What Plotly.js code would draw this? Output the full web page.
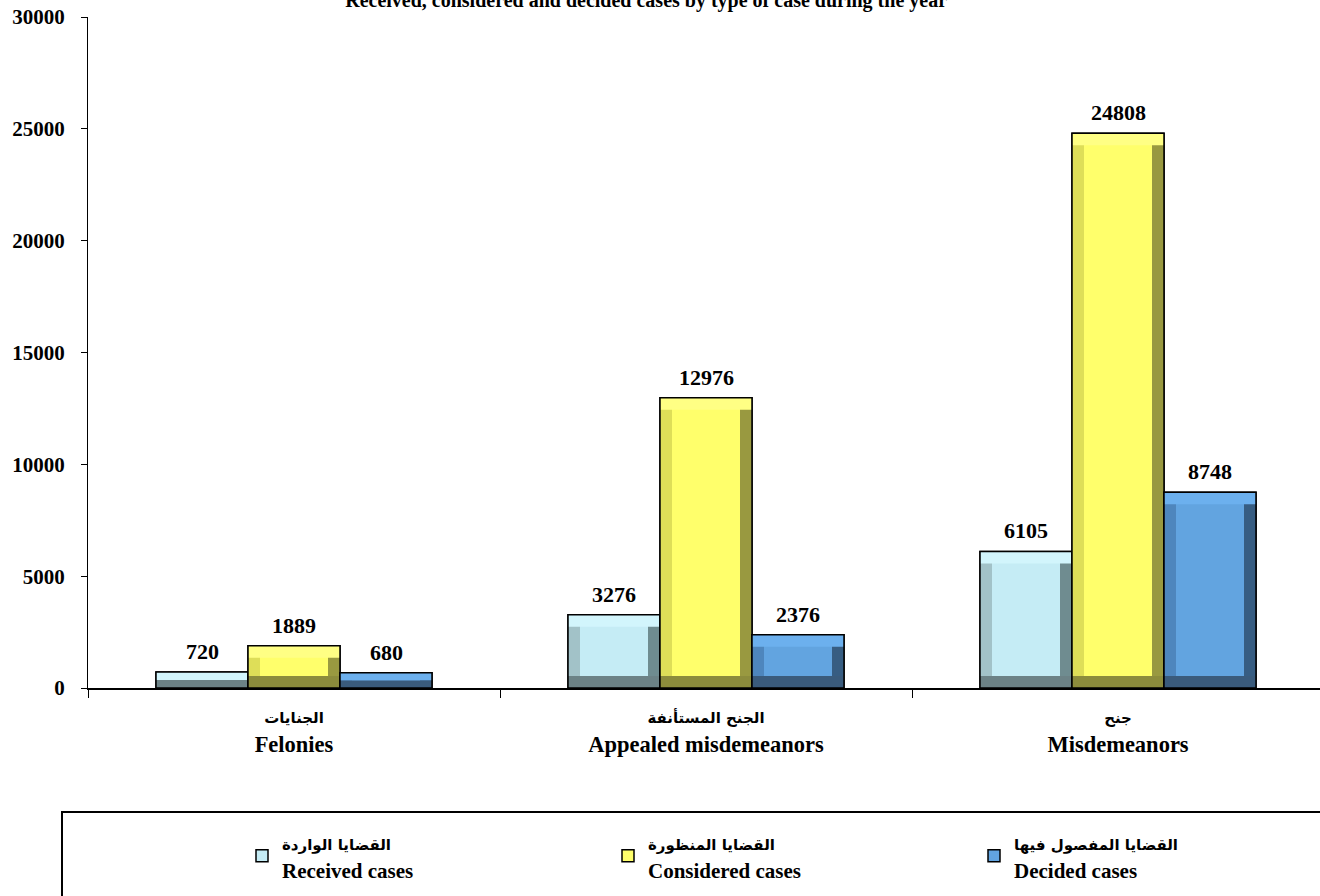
<!DOCTYPE html>
<html>
<head>
<meta charset="utf-8">
<script src="https://cdn.plot.ly/plotly-3.0.1.min.js"></script>
<style>
html,body{margin:0;padding:0;overflow:hidden;background:#fff;}
#chart{width:1324px;height:896px;}
</style>
</head>
<body>
<div id="chart"></div>
<script>
// ---- data ----
const categoriesAr = ['الجنايات', 'الجنح المستأنفة', 'جنح'];
const categoriesEn = ['Felonies', 'Appealed misdemeanors', 'Misdemeanors'];
const seriesNamesAr = ['القضايا الواردة', 'القضايا المنظورة', 'القضايا المفصول فيها'];
const seriesNamesEn = ['Received cases', 'Considered cases', 'Decided cases'];
const receivedCases = [720, 3276, 6105];
const consideredCases = [1889, 12976, 24808];
const decidedCases = [680, 2376, 8748];
const yTickValues = [0, 5000, 10000, 15000, 20000, 25000, 30000];
const chartTitle = 'Received, considered and decided cases by type of case during the year';

// ---- styling ----
const serif = 'Liberation Serif, Times New Roman, serif';
const arabicFont = "'DejaVu Sans'";
const palettes = [
  {face:'#C5ECF5', top:'#D2F5FC', left:'#A2C2C8', right:'#6F8C90', bottom:'#6C8286'},
  {face:'#FFFF6B', top:'#FFFF84', left:'#DEDE58', right:'#999940', bottom:'#8C8C3C'},
  {face:'#62A4E0', top:'#6CB0EE', left:'#4E86BD', right:'#375D82', bottom:'#3A5B7C'}
];
const seriesValues = [receivedCases, consideredCases, decidedCases];

const barW = 92 / 412;          // bar width in category units
const bevX = 12 / 412;          // bevel width in category units
const bevY = 12 * 30000 / 671;  // bevel height in value units

const catLabels = categoriesAr.map((ar, i) =>
  '<span style="font-family:' + arabicFont + ';font-size:15px">' + ar + '</span><br>' + categoriesEn[i]);

const traces = [];
const annotations = [];
seriesValues.forEach((vals, s) => {
  const p = palettes[s];
  const off = (s - 1.5) * barW;
  const name = '<span style="font-family:' + arabicFont + ';font-size:15px">' + seriesNamesAr[s] + '</span><br>' + seriesNamesEn[s];
  const inset = vals.map(v => Math.min(bevY, v / 2));
  // main bar (legend)
  traces.push({type:'bar', x:catLabels, y:vals, width:barW, offset:off, name:name,
    marker:{color:p.face, line:{color:'#000', width:1.5}}, hoverinfo:'skip', legendrank:s});
  // left bevel
  traces.push({type:'bar', x:catLabels, y:vals, width:bevX, offset:off, showlegend:false,
    marker:{color:p.left, line:{width:0}}, hoverinfo:'skip'});
  // right bevel
  traces.push({type:'bar', x:catLabels, y:vals, width:bevX, offset:off + barW - bevX, showlegend:false,
    marker:{color:p.right, line:{width:0}}, hoverinfo:'skip'});
  // top bevel
  traces.push({type:'bar', x:catLabels, y:inset, base:vals.map((v, i) => v - inset[i]), width:barW, offset:off, showlegend:false,
    marker:{color:p.top, line:{width:0}}, hoverinfo:'skip'});
  // bottom bevel
  traces.push({type:'bar', x:catLabels, y:inset, base:0, width:barW, offset:off, showlegend:false,
    marker:{color:p.bottom, line:{width:0}}, hoverinfo:'skip'});
  // outline
  traces.push({type:'bar', x:catLabels, y:vals, width:barW, offset:off, showlegend:false,
    marker:{color:'rgba(0,0,0,0)', line:{color:'#000', width:1.5}}, hoverinfo:'skip'});
  vals.forEach((v, i) => {
    annotations.push({x:i + off + barW / 2, y:v, xref:'x', yref:'y', text:String(v),
      showarrow:false, yanchor:'bottom', yshift:6,
      font:{family:serif, size:22, color:'#000', weight:'bold'}});
  });
});

const layout = {
  width:1324, height:896,
  margin:{l:88, r:0, t:17, b:208, autoexpand:false},
  paper_bgcolor:'#fff', plot_bgcolor:'#fff',
  barmode:'overlay',
  title:{text:chartTitle, x:0.488, xanchor:'center', yref:'container', y:1, yanchor:'middle',
    font:{family:serif, size:20, color:'#000', weight:'bold'}},
  xaxis:{type:'category', range:[-0.5, 2.5], showline:true, linecolor:'#000', linewidth:1.5,
    ticks:'outside', tickson:'boundaries', ticklen:8, tickcolor:'#000', showgrid:false, zeroline:false,
    ticklabelstandoff:6,
    tickfont:{family:serif, size:22.5, color:'#000', weight:'bold'}, fixedrange:true},
  yaxis:{range:[0, 30000], tickvals:yTickValues, ticktext:yTickValues.map(String), showline:true,
    linecolor:'#000', linewidth:1, ticks:'outside', ticklen:6, tickcolor:'#000', showgrid:false,
    zeroline:false, ticklabelstandoff:12,
    tickfont:{family:serif, size:21, color:'#000', weight:'bold'}, fixedrange:true},
  showlegend:true,
  legend:{orientation:'h', x:(242 - 88) / 1236, xanchor:'left', y:(688 - 822) / 671, yanchor:'top',
    entrywidth:321, entrywidthmode:'pixels', bgcolor:'rgba(0,0,0,0)', borderwidth:0,
    font:{family:serif, size:21, color:'#000', weight:'bold'}, traceorder:'normal', itemclick:false, itemdoubleclick:false},
  shapes:[{type:'rect', xref:'paper', yref:'paper', x0:(62 - 88) / 1236, x1:1.05,
    y0:(688 - 812) / 671, y1:-0.4, line:{color:'#000', width:2}, fillcolor:'rgba(0,0,0,0)'}],
  annotations:annotations
};

Plotly.newPlot('chart', traces, layout, {displayModeBar:false, staticPlot:true});
</script>
</body>
</html>
